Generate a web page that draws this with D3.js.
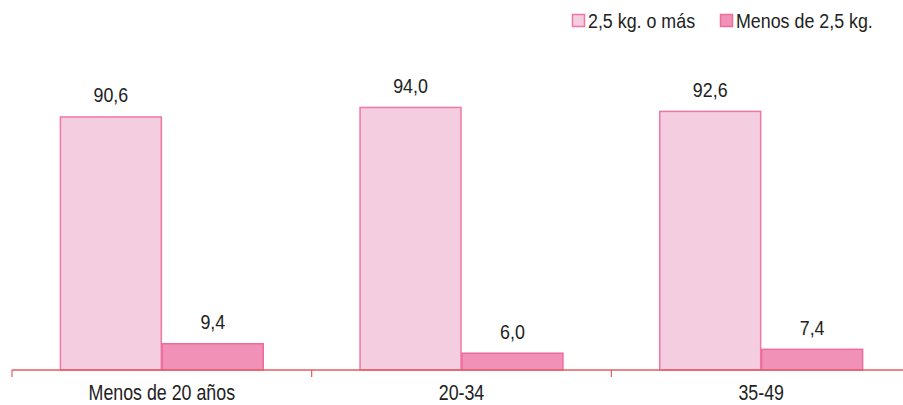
<!DOCTYPE html>
<html><head><meta charset="utf-8">
<script src="https://cdn.jsdelivr.net/npm/d3@7"></script>
<style>
body{margin:0;background:#fff;}
text{font-family:"Liberation Sans",Arial,sans-serif;fill:#222;}
</style></head>
<body><svg id="c" width="903" height="405"></svg>
<script>
const categories = ["Menos de 20 años", "20-34", "35-49"];
const seriesNames = ["2,5 kg. o más", "Menos de 2,5 kg."];
const heavy = [90.6, 94.0, 92.6];
const light = [9.4, 6.0, 7.4];
const series = [heavy, light];
const fills = ["#f4cde0", "#f291b8"];
const strokes = ["#ef77a3", "#ec6c9b"];

const svg = d3.select("#c");
const baseY = 370;
const x = d3.scaleBand().domain(categories).range([12, 911]).paddingInner(0).paddingOuter(0);
const xi = d3.scaleBand().domain([0,1]).range([0, x.bandwidth()]).paddingOuter(0.47).paddingInner(0);
const y = d3.scaleLinear().domain([0, 100]).range([baseY, 90.7]);
const fmt = v => v.toFixed(1).replace(".", ",");

function label(sel, tx, ty, txt, anchor, fs, sx) {
  return sel.append("text")
    .attr("transform", `translate(${tx},${ty}) scale(${sx || 0.85},1)`)
    .attr("text-anchor", anchor || "middle").attr("font-size", fs || 21)
    .text(txt);
}

const g = svg.append("g");
categories.forEach((c, ci) => {
  series.forEach((s, si) => {
    g.append("rect")
      .attr("x", x(c) + xi(si) + 0.5)
      .attr("y", y(s[ci]))
      .attr("width", xi.bandwidth() - 1)
      .attr("height", baseY - y(s[ci]))
      .attr("fill", fills[si]).attr("stroke", strokes[si]).attr("stroke-width", 1.5);
    label(g, x(c) + xi(si) + xi.bandwidth()/2, y(s[ci]) - 14.5, fmt(s[ci]));
  });
});

// axis
const axis = d3.axisBottom(x).tickSize(0).tickFormat("");
const ag = svg.append("g").attr("transform", `translate(0,${baseY})`).call(axis);
ag.select(".domain").attr("stroke", "#e55c62").attr("stroke-width", 1.5).attr("d", `M12,0H903`);
categories.forEach(c => {
  label(svg, x(c) + x.bandwidth()/2, 400, c, "middle", 22, 0.81);
  svg.append("line").attr("x1", x(c)).attr("x2", x(c)).attr("y1", baseY).attr("y2", baseY + 7)
    .attr("stroke", "#e55c62").attr("stroke-width", 1.2);
});

// legend
const leg = [{x: 572.5, tx: 588}, {x: 720.5, tx: 736}];
seriesNames.forEach((n, i) => {
  svg.append("rect").attr("x", leg[i].x).attr("y", 14.5).attr("width", 12).attr("height", 12)
    .attr("fill", fills[i]).attr("stroke", strokes[i]).attr("stroke-width", 1.5);
  label(svg, leg[i].tx, 28, n, "start");
});
</script></body></html>
